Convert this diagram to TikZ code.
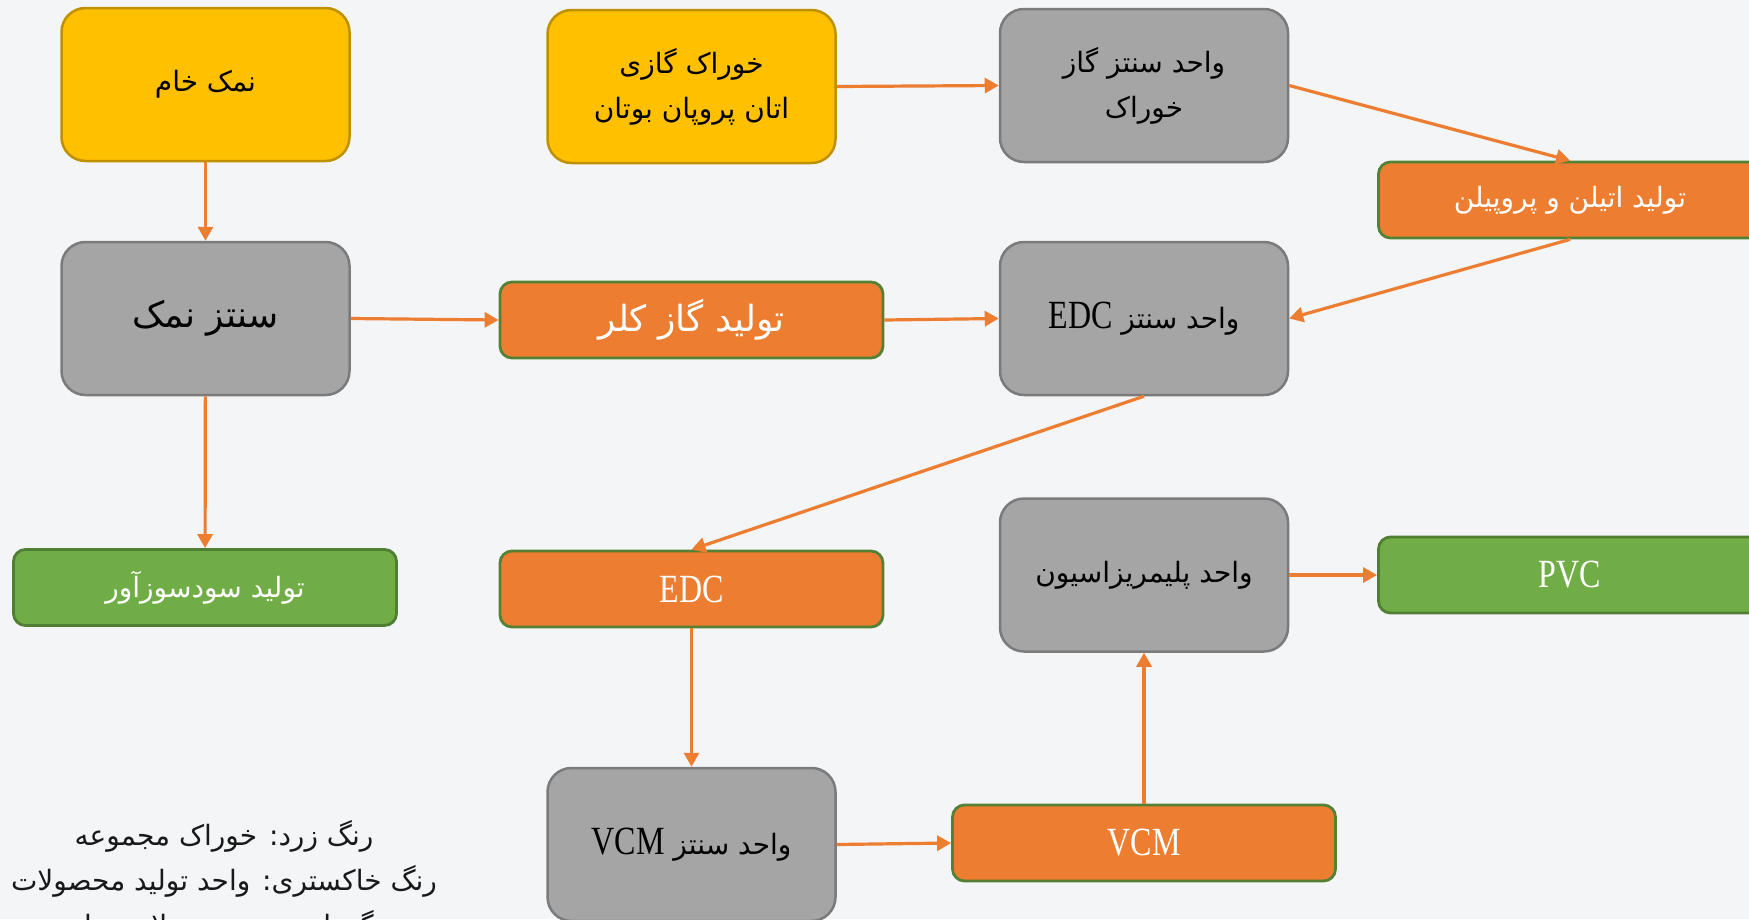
\documentclass[tikz,border=0pt]{standalone}
\usepackage{fontspec}
\usetikzlibrary{arrows.meta}
\TeXXeTstate=1
\newfontfamily\faf[Script=Arabic]{DejaVu Sans}
\newfontfamily\latf[FakeStretch=0.8]{Liberation Serif}
\definecolor{bgc}{HTML}{F4F5F7}
\definecolor{yelf}{HTML}{FFC000}
\definecolor{yeld}{HTML}{BF9000}
\definecolor{grayf}{HTML}{A5A5A5}
\definecolor{grayd}{HTML}{7B7B7B}
\definecolor{orf}{HTML}{ED7D31}
\definecolor{ord}{HTML}{548235}
\definecolor{grf}{HTML}{70AD47}
\definecolor{grd}{HTML}{507E32}
\newcommand{\fatext}[1]{\beginR #1\endR}
\begin{document}
\begin{tikzpicture}[x=1pt,y=-1pt,
  box/.style={draw, rounded corners=24pt, line width=2.5pt, align=center, inner sep=0pt,
    font=\faf\fontsize{28}{45}\selectfont},
  feed/.style={box, fill=yelf, draw=yeld, minimum width=288pt, minimum height=153pt},
  unitbox/.style={box, fill=grayf, draw=grayd, minimum width=288pt, minimum height=153pt},
  prod/.style={box, rounded corners=12pt, line width=2.8pt, fill=orf, draw=ord, text=white,
    minimum width=383pt, minimum height=76pt},
  fin/.style={prod, fill=grf, draw=grd},
  flow/.style={draw=orf, line width=3.2pt, -{Triangle[length=14pt,width=15pt]}},
  big/.style={font=\faf\fontsize{36}{45}\selectfont}
]
\useasboundingbox (0,0) rectangle (1749,919);
\fill[bgc] (0,0) rectangle (1749,919);

\node[feed] (raw) at (205.5,84.5) {\fatext{نمک خام}};
\node[unitbox, big] (salt) at (205.5,318.5) {\fatext{سنتز نمک}};
\node[fin] (soda) at (205,587.5) {\fatext{تولید سودسوزآور}};

\node[feed] (gasfeed) at (691.5,86.5) {\fatext{خوراک گازی}\\\fatext{اتان پروپان بوتان}};
\node[prod, big] (chlor) at (691.5,320) {\fatext{تولید گاز کلر}};
\node[prod] (edco) at (691.5,589) {\latf\fontsize{40}{45}\selectfont EDC};
\node[unitbox] (vcmu) at (691.5,844.5) {\fatext{واحد سنتز \beginL{\latf\fontsize{40}{45}\selectfont VCM}\endL}};

\node[unitbox] (feedu) at (1144,85.5) {\fatext{واحد سنتز گاز}\\\fatext{خوراک}};
\node[unitbox] (edcu) at (1144,318.5) {\fatext{واحد سنتز \beginL{\latf\fontsize{40}{45}\selectfont EDC}\endL}};
\node[unitbox] (poly) at (1144,575) {\fatext{واحد پلیمریزاسیون}};
\node[prod] (vcmo) at (1144,843) {\latf\fontsize{40}{45}\selectfont VCM};

\node[prod] (eth) at (1570,200) {\fatext{تولید اتیلن و پروپیلن}};
\node[fin] (pvc) at (1570,575) {\latf\fontsize{40}{45}\selectfont PVC};

\node[align=center, font=\faf\fontsize{28}{45}\selectfont, text=black!90] (legend) at (224,881)
  {\fatext{رنگ زرد: خوراک مجموعه}\\\fatext{رنگ خاکستری: واحد تولید محصولات}\\\fatext{رنگ نارنجی: محصولات میانی}};

\draw[flow] (raw) -- (salt);
\draw[flow] (salt) -- (soda);
\draw[flow] (salt.east) -- (chlor.west);
\draw[flow] (chlor.east) -- (edcu.west);
\draw[flow] (gasfeed.east) -- (feedu.west);
\draw[flow] (feedu.east) -- (eth.north);
\draw[flow] (eth.south) -- (edcu.east);
\draw[flow] (edcu.south) -- (edco.north);
\draw[flow] (edco) -- (vcmu);
\draw[flow] (vcmu.east) -- (vcmo.west);
\draw[flow] (vcmo) -- (poly);
\draw[flow] (poly.east) -- (pvc.west);
\end{tikzpicture}
\end{document}
